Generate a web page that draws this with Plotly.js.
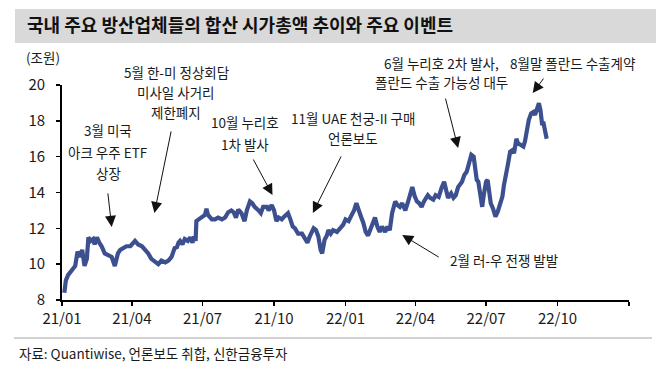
<!DOCTYPE html>
<html>
<head>
<meta charset="utf-8">
<script src="https://cdn.plot.ly/plotly-3.0.1.min.js"></script>
<style>html,body{margin:0;padding:0;background:#fff;}#chart{width:672px;height:370px;}</style>
</head>
<body>
<div id="chart"></div>
<script>
// ---- data ----
const dates = [
 '2021-01-04','2021-01-06','2021-01-09','2021-01-13','2021-01-18','2021-01-21','2021-01-24','2021-01-27','2021-01-30',
 '2021-02-02','2021-02-04','2021-02-07','2021-02-10','2021-02-12','2021-02-15','2021-02-18','2021-02-21','2021-02-25',
 '2021-03-02','2021-03-06','2021-03-10','2021-03-14','2021-03-17','2021-03-21','2021-03-25','2021-03-30',
 '2021-04-05','2021-04-09','2021-04-14','2021-04-18','2021-04-22','2021-04-26',
 '2021-05-01','2021-05-05','2021-05-09','2021-05-14','2021-05-18','2021-05-22','2021-05-26','2021-05-29','2021-05-31',
 '2021-06-02','2021-06-05','2021-06-08','2021-06-12','2021-06-15','2021-06-18','2021-06-20','2021-06-22','2021-06-23','2021-06-26','2021-06-30',
 '2021-07-04','2021-07-06','2021-07-08','2021-07-13','2021-07-17','2021-07-21','2021-07-26','2021-07-30',
 '2021-08-03','2021-08-07','2021-08-10','2021-08-13','2021-08-16','2021-08-20','2021-08-24','2021-08-27','2021-08-31',
 '2021-09-03','2021-09-06','2021-09-11','2021-09-14','2021-09-17','2021-09-22','2021-09-24','2021-09-28',
 '2021-10-01','2021-10-04','2021-10-07','2021-10-11','2021-10-14','2021-10-19','2021-10-22','2021-10-25','2021-10-28',
 '2021-11-01','2021-11-06','2021-11-10','2021-11-13','2021-11-16','2021-11-21','2021-11-24','2021-11-27','2021-11-30',
 '2021-12-02','2021-12-05','2021-12-08','2021-12-10','2021-12-13','2021-12-16','2021-12-21','2021-12-25','2021-12-29',
 '2022-01-01','2022-01-05','2022-01-09','2022-01-12','2022-01-15','2022-01-17','2022-01-21','2022-01-24','2022-01-27','2022-01-30',
 '2022-02-02','2022-02-05','2022-02-08','2022-02-11','2022-02-14','2022-02-17','2022-02-21','2022-02-24','2022-02-27',
 '2022-03-02','2022-03-06','2022-03-09','2022-03-12','2022-03-15','2022-03-19','2022-03-22','2022-03-25','2022-03-28','2022-03-31',
 '2022-04-03','2022-04-06','2022-04-09','2022-04-12','2022-04-17','2022-04-20','2022-04-24','2022-04-27',
 '2022-05-01','2022-05-05','2022-05-08','2022-05-11','2022-05-13','2022-05-17','2022-05-20','2022-05-23','2022-05-26','2022-05-31',
 '2022-06-03','2022-06-06','2022-06-09','2022-06-12','2022-06-15','2022-06-17','2022-06-19','2022-06-21','2022-06-24','2022-06-26','2022-06-28',
 '2022-07-01','2022-07-03','2022-07-05','2022-07-07','2022-07-10','2022-07-13','2022-07-16','2022-07-19','2022-07-22','2022-07-24','2022-07-26','2022-07-29',
 '2022-08-01','2022-08-04','2022-08-06','2022-08-09','2022-08-11','2022-08-15','2022-08-18','2022-08-20','2022-08-22','2022-08-25','2022-08-28','2022-08-31',
 '2022-09-02','2022-09-05','2022-09-07','2022-09-09','2022-09-11','2022-09-13','2022-09-15','2022-09-17'
];
const marketCap = [
 8.4,9.1,9.4,9.6,9.9,10.7,10.4,10.8,9.9,
 10.3,11.5,11.3,11.4,11.1,11.5,11.2,11.0,10.6,
 10.5,10.4,9.9,10.6,10.8,10.9,11.0,11.0,
 11.3,11.1,11.0,10.8,10.6,10.3,
 10.1,10.0,10.2,10.1,10.2,10.4,10.9,10.95,11.2,
 11.3,11.1,11.4,11.3,11.5,11.2,11.55,11.3,12.4,12.5,12.6,
 12.75,13.1,12.75,12.5,12.5,12.6,12.5,12.6,
 12.9,13.0,12.9,12.6,13.05,12.85,12.4,13.0,13.5,
 13.4,13.2,13.0,12.85,13.2,13.2,13.0,13.3,
 13.0,12.4,12.6,12.5,12.65,12.85,12.5,12.1,12.0,
 11.7,11.7,11.35,11.2,11.55,12.0,11.9,11.55,10.8,
 10.6,11.35,11.6,11.9,11.7,11.9,11.8,12.0,12.2,
 12.5,12.4,12.75,13.0,13.4,13.1,12.65,12.3,11.8,11.6,
 11.9,12.2,12.6,12.1,11.8,12.1,11.8,12.1,11.9,
 12.85,13.5,13.3,13.2,13.4,13.0,13.4,13.95,14.3,13.8,
 13.5,13.4,13.2,13.5,13.85,13.7,13.6,13.85,
 13.75,14.3,14.6,14.05,13.7,13.95,13.7,13.85,14.3,14.6,
 14.98,15.16,15.7,16.1,16.0,15.26,14.7,14.6,13.86,13.2,13.86,
 14.6,14.7,14.14,13.4,13.1,12.65,12.93,13.4,13.77,14.42,14.98,15.54,
 16.28,16.37,16.19,17.0,16.75,16.65,16.56,16.84,17.5,18.05,18.42,18.5,
 18.33,18.7,18.98,18.6,17.86,17.86,17.4,17.0
];
const tickDates = ['2021-01-01','2021-04-01','2021-07-01','2021-10-01','2022-01-01','2022-04-01','2022-07-01','2022-10-01','2023-01-01'];
const tickLabels = ['21/01','21/04','21/07','21/10','22/01','22/04','22/07','22/10',''];
const yTicks = [8,10,12,14,16,18,20];

const titleText = '국내 주요 방산업체들의 합산 시가총액 추이와 주요 이벤트';
const unitText = '(조원)';
const sourceText = '자료: Quantiwise, 언론보도 취합, 신한금융투자';

// event labels (lines) and the point each arrow marks
const eventLines = [
 ['3월 미국','아크 우주 ETF','상장'],
 ['5월 한-미 정상회담','미사일 사거리','제한폐지'],
 ['10월 누리호','1차 발사'],
 ['11월 UAE 천궁-II 구매','언론보도'],
 ['6월 누리호 2차 발사,','폴란드 수출 가능성 대두'],
 ['8월말 폴란드 수출계약'],
 ['2월 러-우 전쟁 발발']
];
const eventDates = ['2021-03-06','2021-04-30','2021-09-29','2021-11-20','2022-05-26','2022-08-30','2022-03-15'];
const eventValues = [12.08,12.86,13.86,12.86,16.48,19.55,11.63];

// ---- layout helpers (pixel -> paper) ----
const W=672,H=370,L=62,R=43,T=85,B=70;
const PW=W-L-R, PH=H-T-B;
const px = x => (x-L)/PW;
const py = y => (H-B-y)/PH;

const FONT='Noto Sans CJK KR, Noto Sans, sans-serif';

// text layout: [centerX, [lineY...]]
const textPos = [
 [108,[130,152,173]],
 [176,[72,92,112]],
 [245,[122,144]],
 [353,[118,138]],
 [441,[63,82]],
 [572,[63]],
 [504,[260]]
];
// arrow tail offsets in px relative to tip
const arrowOff = [[-4,-35],[17,-83],[-20,-37],[29,-58],[-13,-51],[12,-16],[38,23]];

const annotations = [];
eventLines.forEach((lines,i)=>{
  lines.forEach((t,j)=>{
    annotations.push({xref:'paper',yref:'paper',x:px(textPos[i][0]),y:py(textPos[i][1][j]),
      text:t,showarrow:false,xanchor:'center',yanchor:'middle',
      font:{family:FONT,size:13.5,color:'#1a1a1a'}});
  });
  annotations.push({xref:'x',yref:'y',x:eventDates[i],y:eventValues[i],text:'',
    showarrow:true,arrowhead:2,arrowsize:2.2,arrowwidth:1,arrowcolor:'#111',
    ax:arrowOff[i][0],ay:arrowOff[i][1],standoff:0,startstandoff:0});
});
annotations.push({xref:'paper',yref:'paper',x:px(43),y:py(57),text:unitText,showarrow:false,
  xanchor:'center',yanchor:'middle',font:{family:FONT,size:13.5,color:'#1a1a1a'}});
annotations.push({xref:'paper',yref:'paper',x:px(17),y:py(353),text:sourceText,showarrow:false,
  xanchor:'left',yanchor:'middle',font:{family:FONT,size:13.5,color:'#1a1a1a'}});

const shapes = [
 {type:'rect',xref:'paper',yref:'paper',x0:px(15),x1:px(656),y0:py(43),y1:py(9),
  fillcolor:'#d9d9d9',line:{width:0},layer:'below'},
 {type:'line',xref:'paper',yref:'paper',x0:px(14),x1:px(652),y0:py(338),y1:py(338),
  line:{color:'#a6a6a6',width:1}}
];

const trace = {x:dates,y:marketCap,type:'scatter',mode:'lines',
  line:{color:'#3C4F8F',width:4.2,shape:'linear'},hoverinfo:'skip'};

const layout = {
  width:W,height:H,margin:{l:L,r:R,t:T,b:B},
  paper_bgcolor:'#fff',plot_bgcolor:'#fff',showlegend:false,
  font:{family:FONT,color:'#1a1a1a'},
  title:{text:titleText,xref:'container',yref:'container',x:27/W,xanchor:'left',
    y:1-26/H,yanchor:'middle',font:{family:FONT,size:18,color:'#111',weight:'bold'}},
  xaxis:{type:'date',range:['2021-01-01','2023-01-01'],tickmode:'array',tickvals:tickDates,ticktext:tickLabels,
    ticks:'outside',ticklen:4,tickwidth:1.5,tickcolor:'#000',showline:true,linecolor:'#000',linewidth:1.8,
    showgrid:false,zeroline:false,tickfont:{family:FONT,size:15,color:'#1a1a1a'},fixedrange:true},
  yaxis:{range:[8,20],tickmode:'array',tickvals:yTicks,
    ticks:'outside',ticklen:4,tickwidth:1.5,tickcolor:'#000',showline:true,linecolor:'#000',linewidth:1.8,
    showgrid:false,zeroline:false,tickfont:{family:FONT,size:15,color:'#1a1a1a'},ticklabelstandoff:8,fixedrange:true},
  annotations:annotations,shapes:shapes
};
Plotly.newPlot('chart',[trace],layout,{displayModeBar:false,staticPlot:true});
</script>
</body>
</html>
